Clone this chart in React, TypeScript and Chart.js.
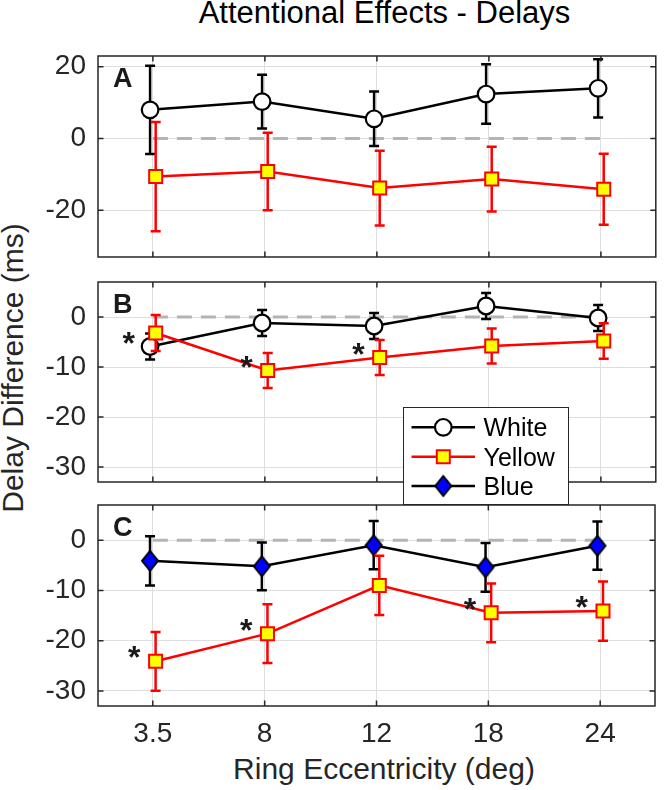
import React, { useEffect, useRef } from 'react';
import { Chart, registerables } from 'chart.js';

Chart.register(...registerables);

// ---------- data ----------
const eccentricities = ['3.5', '8', '12', '18', '24'];
const seriesNames = ['White', 'Yellow', 'Blue'];

// Panel A
const aWhite = [8.0, 10.3, 5.5, 12.4, 14.0];
const aWhiteErr = [12.3, 7.5, 7.6, 8.3, 8.1];
const aYellow = [-10.6, -9.2, -13.8, -11.3, -14.1];
const aYellowErr = [15.2, 10.8, 10.4, 9.0, 9.9];

// Panel B
const bWhite = [-5.9, -1.2, -1.8, 2.2, -0.2];
const bWhiteErr = [2.6, 2.6, 2.6, 2.6, 2.6];
const bWhiteSig = [1, 0, 0, 0, 0];
const bYellow = [-3.2, -10.7, -8.1, -5.8, -4.8];
const bYellowErr = [3.6, 3.5, 3.5, 3.5, 3.55];
const bYellowSig = [0, 1, 1, 0, 0];

// Panel C
const cBlue = [-4.1, -5.2, -1.0, -5.4, -1.1];
const cBlueErr = [4.9, 4.75, 4.8, 4.85, 4.8];
const cYellow = [-24.1, -18.6, -9.0, -14.45, -14.1];
const cYellowErr = [5.85, 5.85, 5.9, 5.85, 5.9];
const cYellowSig = [1, 1, 0, 1, 1];

const yTicksA = [-20, 0, 20];
const yTicksBC = [-30, -20, -10, 0];
const zeroLine = [0, 0, 0, 0, 0];

// ---------- styles ----------
const FONT = '"Liberation Sans", Arial, Helvetica, sans-serif';
const AXIS_COLOR = '#262626';
const GRID_COLOR = '#dedede';

function makeDiamond(fill: string, stroke: string) {
  const c = document.createElement('canvas');
  c.width = 20;
  c.height = 24;
  const g = c.getContext('2d')!;
  g.beginPath();
  g.moveTo(10, 2);
  g.lineTo(18, 12);
  g.lineTo(10, 22);
  g.lineTo(2, 12);
  g.closePath();
  g.fillStyle = fill;
  g.fill();
  g.lineWidth = 2;
  g.lineJoin = 'miter';
  g.strokeStyle = stroke;
  g.stroke();
  return c;
}

type Style = { name: string; line: string; fill: string; marker: any; radius: number; bw: number; jitter: number };

function styles() {
  const white: Style = { name: seriesNames[0], line: '#000000', fill: '#ffffff', marker: 'circle', radius: 8.3, bw: 2.2, jitter: -0.025 };
  const yellow: Style = { name: seriesNames[1], line: '#ff0000', fill: '#ffff00', marker: 'rect', radius: 9.2, bw: 2, jitter: 0.025 };
  const blue: Style = { name: seriesNames[2], line: '#000000', fill: '#0000ff', marker: makeDiamond('#0000ff', '#000000'), radius: 10, bw: 2, jitter: -0.025 };
  return { white, yellow, blue };
}

function seriesDataset(values: number[], errs: number[], sig: number[] | null, st: Style, order: number) {
  return {
    label: st.name,
    data: values.map((v, i) => ({ x: i + 1 + st.jitter, y: v })),
    errors: errs,
    sig,
    order,
    borderColor: st.line,
    backgroundColor: st.fill,
    pointBackgroundColor: st.fill,
    pointBorderColor: st.line,
    pointStyle: st.marker,
    pointRadius: st.radius,
    pointBorderWidth: st.bw,
    borderWidth: 2.5,
    tension: 0,
    clip: false,
  };
}

function zeroDataset() {
  return {
    label: 'zero',
    data: zeroLine.map((v, i) => ({ x: i + 1, y: v })),
    order: 10,
    borderColor: '#b4b4b4',
    borderDash: [15, 9],
    borderWidth: 3,
    pointRadius: 0,
    tension: 0,
    clip: false,
  };
}

function drawMarker(ctx: CanvasRenderingContext2D, st: Style, x: number, y: number) {
  ctx.save();
  if (st.marker === 'circle') {
    ctx.beginPath();
    ctx.arc(x, y, st.radius, 0, Math.PI * 2);
    ctx.fillStyle = st.fill;
    ctx.fill();
    ctx.lineWidth = st.bw;
    ctx.strokeStyle = st.line;
    ctx.stroke();
  } else if (st.marker === 'rect') {
    const s = st.radius * Math.SQRT1_2;
    ctx.beginPath();
    ctx.rect(x - s, y - s, 2 * s, 2 * s);
    ctx.fillStyle = st.fill;
    ctx.fill();
    ctx.lineWidth = st.bw;
    ctx.strokeStyle = st.line;
    ctx.stroke();
  } else {
    const img = st.marker as HTMLCanvasElement;
    ctx.drawImage(img, x - img.width / 2, y - img.height / 2);
  }
  ctx.restore();
}

const panelPlugin = {
  id: 'panelDeco',
  beforeDatasetDraw(chart: any, args: any) {
    const ds = chart.data.datasets[args.index];
    if (!ds.errors) return;
    const ctx = chart.ctx;
    const ys = chart.scales.y;
    ctx.save();
    ctx.strokeStyle = ds.borderColor;
    ctx.lineWidth = 2.5;
    ctx.setLineDash([]);
    args.meta.data.forEach((pt: any, i: number) => {
      const v = ds.data[i].y;
      const e = ds.errors[i];
      const yt = ys.getPixelForValue(v + e);
      const yb = ys.getPixelForValue(v - e);
      ctx.beginPath();
      ctx.moveTo(pt.x, yt);
      ctx.lineTo(pt.x, yb);
      ctx.moveTo(pt.x - 5, yt);
      ctx.lineTo(pt.x + 5, yt);
      ctx.moveTo(pt.x - 5, yb);
      ctx.lineTo(pt.x + 5, yb);
      ctx.stroke();
    });
    ctx.restore();
  },
  afterDatasetsDraw(chart: any) {
    const ctx = chart.ctx;
    chart.data.datasets.forEach((ds: any, di: number) => {
      if (!ds.sig) return;
      const meta = chart.getDatasetMeta(di);
      ds.sig.forEach((s: number, i: number) => {
        if (!s) return;
        const pt = meta.data[i];
        ctx.save();
        ctx.font = `bold 32px ${FONT}`;
        ctx.fillStyle = '#1a1a1a';
        const m = ctx.measureText('*');
        const cx = pt.x - 21;
        const cy = pt.y - 9;
        const w = m.actualBoundingBoxRight + m.actualBoundingBoxLeft;
        const h = m.actualBoundingBoxAscent + m.actualBoundingBoxDescent;
        ctx.textBaseline = 'alphabetic';
        ctx.fillText('*', cx - w / 2 + m.actualBoundingBoxLeft, cy + h / 2 - m.actualBoundingBoxDescent);
        ctx.restore();
      });
    });
  },
  afterDraw(chart: any, _args: any, opts: any) {
    const ctx = chart.ctx;
    const { left, right, top, bottom } = chart.chartArea;
    const xs = chart.scales.x;
    const ys = chart.scales.y;
    ctx.save();
    ctx.strokeStyle = AXIS_COLOR;
    ctx.lineWidth = 1.5;
    ctx.setLineDash([]);
    ctx.strokeRect(left, top, right - left, bottom - top);
    ctx.beginPath();
    xs.ticks.forEach((t: any) => {
      const px = xs.getPixelForValue(t.value);
      ctx.moveTo(px, top);
      ctx.lineTo(px, top + 5.5);
      ctx.moveTo(px, bottom);
      ctx.lineTo(px, bottom - 5.5);
    });
    ys.ticks.forEach((t: any) => {
      const py = ys.getPixelForValue(t.value);
      ctx.moveTo(left, py);
      ctx.lineTo(left + 5.5, py);
      ctx.moveTo(right, py);
      ctx.lineTo(right - 5.5, py);
    });
    ctx.stroke();
    // panel letter
    ctx.font = `bold 27px ${FONT}`;
    ctx.fillStyle = '#1a1a1a';
    ctx.textBaseline = 'alphabetic';
    ctx.fillText(opts.letter, left + 15, top + 31);
    ctx.restore();

    if (opts.legend) {
      const entries = opts.legend as Style[];
      const x0 = 403.5, y0 = 407.5, w = 165, h = 97;
      ctx.save();
      ctx.fillStyle = '#ffffff';
      ctx.fillRect(x0, y0, w, h);
      ctx.strokeStyle = AXIS_COLOR;
      ctx.lineWidth = 1;
      ctx.strokeRect(x0, y0, w, h);
      const rowY = [427.3, 456.7, 486];
      entries.forEach((st, i) => {
        const y = rowY[i];
        ctx.beginPath();
        ctx.strokeStyle = st.line;
        ctx.lineWidth = 2.5;
        ctx.moveTo(411.5, y);
        ctx.lineTo(475, y);
        ctx.stroke();
        drawMarker(ctx, st, 443.3, y);
        ctx.font = `25px ${FONT}`;
        ctx.fillStyle = '#000000';
        ctx.textBaseline = 'alphabetic';
        ctx.fillText(st.name, 483.5, y + 8.8);
      });
      ctx.restore();
    }
  },
};

type Panel = {
  letter: string;
  yMin: number;
  yMax: number;
  yTicks: number[];
  top: number;
  bottom: number;
  showX: boolean;
  datasets: any[];
  legend?: Style[];
};

function makeChart(canvas: HTMLCanvasElement, p: Panel) {
  const W = 667, H = 790;
  const xAxisH = p.showX ? 84 : 0;
  const tickFont = { family: FONT, size: 28 };
  return new Chart(canvas, {
    type: 'line',
    data: { datasets: p.datasets },
    plugins: [panelPlugin as any],
    options: {
      responsive: false,
      animation: false,
      devicePixelRatio: 1,
      events: [],
      layout: { padding: { top: p.top, bottom: H - p.bottom - xAxisH, left: 0, right: W - 666 } },
      plugins: {
        legend: { display: false },
        tooltip: { enabled: false },
        title: { display: false },
        panelDeco: { letter: p.letter, legend: p.legend || null },
      } as any,
      scales: {
        x: {
          type: 'linear',
          min: 0.51,
          max: 5.49,
          afterBuildTicks: (s: any) => {
            s.ticks = eccentricities.map((_, i) => ({ value: i + 1 }));
          },
          afterFit: (s: any) => {
            s.height = xAxisH;
          },
          grid: { color: GRID_COLOR, lineWidth: 1, drawTicks: false },
          border: { display: false },
          ticks: {
            display: p.showX,
            font: tickFont,
            color: AXIS_COLOR,
            padding: 11,
            maxRotation: 0,
            autoSkip: false,
            callback: (v: any) => eccentricities[Math.round(v) - 1],
          },
        },
        y: {
          type: 'linear',
          min: p.yMin,
          max: p.yMax,
          afterBuildTicks: (s: any) => {
            s.ticks = p.yTicks.map((v) => ({ value: v }));
          },
          afterFit: (s: any) => {
            s.width = 98;
          },
          grid: { color: GRID_COLOR, lineWidth: 1, drawTicks: false },
          border: { display: false },
          ticks: {
            font: tickFont,
            color: AXIS_COLOR,
            padding: 12,
            callback: (v: any) => String(v),
          },
        },
      } as any,
    },
  } as any);
}

export default function App() {
  const refA = useRef<HTMLCanvasElement>(null);
  const refB = useRef<HTMLCanvasElement>(null);
  const refC = useRef<HTMLCanvasElement>(null);

  useEffect(() => {
    const st = styles();
    const panels: Panel[] = [
      {
        letter: 'A', yMin: -33, yMax: 23, yTicks: yTicksA, top: 56, bottom: 257, showX: false,
        datasets: [
          zeroDataset(),
          seriesDataset(aWhite, aWhiteErr, null, st.white, 2),
          seriesDataset(aYellow, aYellowErr, null, st.yellow, 1),
        ],
      },
      {
        letter: 'B', yMin: -33, yMax: 7, yTicks: yTicksBC, top: 282, bottom: 482, showX: false,
        datasets: [
          zeroDataset(),
          seriesDataset(bWhite, bWhiteErr, bWhiteSig, st.white, 2),
          seriesDataset(bYellow, bYellowErr, bYellowSig, st.yellow, 1),
        ],
      },
      {
        letter: 'C', yMin: -33, yMax: 7, yTicks: yTicksBC, top: 505, bottom: 706, showX: true,
        datasets: [
          zeroDataset(),
          seriesDataset(cBlue, cBlueErr, null, st.blue, 2),
          seriesDataset(cYellow, cYellowErr, cYellowSig, st.yellow, 1),
        ],
        legend: [st.white, st.yellow, st.blue],
      },
    ];
    const canvases = [refA.current!, refB.current!, refC.current!];
    const charts = panels.map((p, i) => makeChart(canvases[i], p));
    return () => charts.forEach((c) => c.destroy());
  }, []);

  const canvasStyle: React.CSSProperties = { position: 'absolute', left: 0, top: 0, width: 667, height: 790 };
  const textBase: React.CSSProperties = {
    position: 'absolute',
    fontFamily: FONT,
    whiteSpace: 'nowrap',
    textAlign: 'center',
    margin: 0,
  };

  return (
    <div style={{ position: 'absolute', left: 0, top: 0, width: 667, height: 790, background: '#ffffff', overflow: 'hidden' }}>
      <div style={{ ...textBase, left: 184.5, top: -3.5, width: 400, fontSize: 31, lineHeight: '31px', color: '#000' }}>
        Attentional Effects - Delays
      </div>
      <div style={{ ...textBase, left: 184, top: 753.6, width: 400, fontSize: 30, lineHeight: '30px', color: AXIS_COLOR }}>
        Ring Eccentricity (deg)
      </div>
      <div
        style={{
          ...textBase,
          left: 13.1 - 200,
          top: 367.5 - 15,
          width: 400,
          height: 30,
          fontSize: 30,
          lineHeight: '30px',
          color: AXIS_COLOR,
          transform: 'rotate(-90deg)',
          transformOrigin: '50% 50%',
        }}
      >
        Delay Difference (ms)
      </div>
      <canvas ref={refA} width={667} height={790} style={canvasStyle} />
      <canvas ref={refB} width={667} height={790} style={canvasStyle} />
      <canvas ref={refC} width={667} height={790} style={canvasStyle} />
    </div>
  );
}
